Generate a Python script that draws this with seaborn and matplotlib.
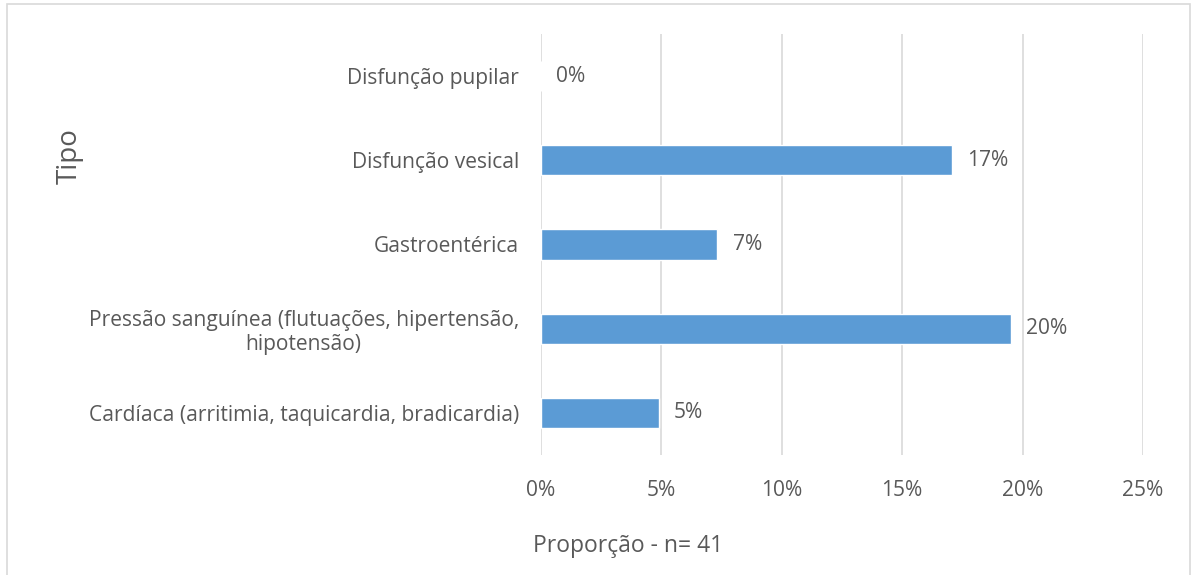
import matplotlib
matplotlib.use("Agg")
import matplotlib.pyplot as plt
import seaborn as sns
import pandas as pd
from matplotlib.patches import Rectangle

categorias = [
    "Disfunção pupilar",
    "Disfunção vesical",
    "Gastroentérica",
    "Pressão sanguínea (flutuações, hipertensão,\nhipotensão)",
    "Cardíaca (arritimia, taquicardia, bradicardia)",
]
proporcoes = [0.0, 0.1707, 0.0732, 0.1951, 0.0488]
rotulos = ["0%", "17%", "7%", "20%", "5%"]
xticks = [0, 0.05, 0.10, 0.15, 0.20, 0.25]
xticklabels = ["0%", "5%", "10%", "15%", "20%", "25%"]

sns.set_theme(style="white")
plt.rcParams["font.family"] = ["Open Sans", "DejaVu Sans"]

cor_texto = "#595959"
cor_barra = "#5B9BD5"
fs = 15.1

fig = plt.figure(figsize=(11.92, 5.75), dpi=100)
ax = fig.add_axes([541 / 1192, 1 - 455 / 575, (1143 - 541) / 1192, (455 - 34) / 575])

df = pd.DataFrame({"Tipo": categorias, "Proporcao": proporcoes})
sns.barplot(data=df, x="Proporcao", y="Tipo", orient="h", color=cor_barra,
            saturation=1, width=0.36, ax=ax)

ax.set_xlim(0, 0.25)
ax.set_xticks(xticks)
ax.set_xticklabels(xticklabels, color=cor_texto, fontsize=fs)
ax.xaxis.grid(True, color="#D9D9D9", linewidth=1.2)
ax.set_axisbelow(True)
for s in ax.spines.values():
    s.set_visible(False)
ax.tick_params(axis="x", length=0, pad=18)
ax.tick_params(axis="y", length=0, pad=16)
for lab in ax.get_yticklabels():
    lab.set_color(cor_texto)
    lab.set_fontsize(fs)
    lab.set_multialignment("center")
    lab.set_linespacing(1.15)
ax.set_xlabel("")
ax.set_ylabel("")

for i, (v, r) in enumerate(zip(proporcoes, rotulos)):
    ax.annotate(r, xy=(v, i), xytext=(11, 0), textcoords="offset points",
                ha="left", va="center", color=cor_texto, fontsize=fs)

fig.text(628 / 1192, 1 - 546 / 575, "Proporção - n= 41", ha="center", va="center",
         color=cor_texto, fontsize=16.5)
fig.text(70 / 1192, 1 - 156 / 575, "Tipo", ha="center", va="center", rotation=90,
         color=cor_texto, fontsize=20)

fig.patches.append(Rectangle((7 / 1192, -0.01), (1190 - 7) / 1192, 1 - 4 / 575 + 0.01,
                             transform=fig.transFigure, fill=False,
                             edgecolor="#D9D9D9", linewidth=1.2))

fig.savefig("out.png", dpi=100)
